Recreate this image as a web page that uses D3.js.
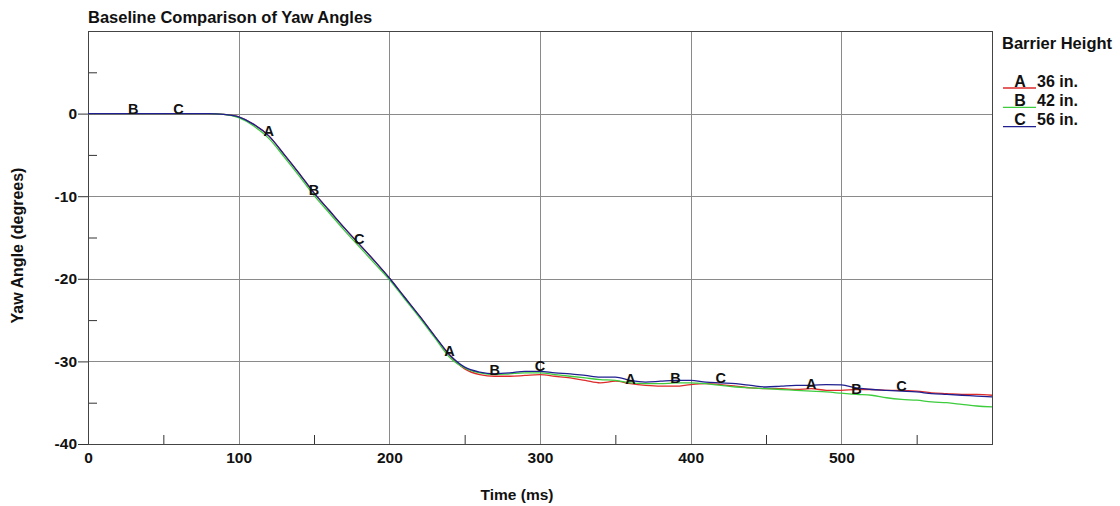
<!DOCTYPE html>
<html>
<head>
<meta charset="utf-8">
<script src="https://cdn.jsdelivr.net/npm/d3@7"></script>
<style>
  html, body { margin: 0; padding: 0; background: #fff; }
  svg text { font-family: Arial, "Liberation Sans", sans-serif; font-weight: bold; fill: #111; }
</style>
</head>
<body>
<svg id="chart" width="1120" height="506"></svg>
<script>
// ---- data ----
const times = [0,10,20,30,40,50,60,70,80,90,100,110,120,130,140,150,160,170,180,190,200,210,220,230,240,250,260,270,280,290,300,310,320,330,340,350,360,370,380,390,400,410,420,430,440,450,460,470,480,490,500,510,520,530,540,550,560,570,580,590,600];
const yawA = [0,0,0,0,0,0,0,0,0,-0.1,-0.4,-1.3,-2.7,-4.9,-7.2,-9.6,-11.7,-13.8,-15.8,-17.8,-19.9,-22.2,-24.5,-26.9,-29.3,-30.9,-31.6,-31.8,-31.8,-31.7,-31.6,-31.8,-32.0,-32.3,-32.6,-32.4,-32.7,-32.9,-33.0,-33.0,-32.8,-32.7,-32.8,-33.0,-33.2,-33.3,-33.3,-33.4,-33.3,-33.5,-33.5,-33.4,-33.4,-33.5,-33.5,-33.6,-33.8,-33.9,-34.0,-34.0,-34.1];
const yawB = [0,0,0,0,0,0,0,0,0,-0.1,-0.5,-1.5,-3.0,-5.2,-7.5,-9.9,-12.0,-14.1,-16.1,-18.1,-20.1,-22.4,-24.7,-27.1,-29.5,-30.8,-31.4,-31.6,-31.5,-31.4,-31.4,-31.6,-31.8,-32.0,-32.2,-32.3,-32.6,-32.7,-32.7,-32.6,-32.6,-32.7,-32.9,-33.1,-33.2,-33.3,-33.4,-33.5,-33.6,-33.7,-33.85,-34.0,-34.1,-34.4,-34.6,-34.7,-34.9,-35.0,-35.2,-35.4,-35.5];
const yawC = [0,0,0,0,0,0,0,0,0,-0.1,-0.4,-1.3,-2.7,-4.9,-7.2,-9.6,-11.7,-13.8,-15.8,-17.8,-19.9,-22.2,-24.5,-26.9,-29.2,-30.7,-31.3,-31.5,-31.4,-31.2,-31.2,-31.4,-31.5,-31.7,-31.9,-31.9,-32.3,-32.5,-32.4,-32.3,-32.3,-32.5,-32.6,-32.7,-32.9,-33.1,-33.0,-32.9,-32.9,-32.8,-32.85,-33.2,-33.4,-33.5,-33.6,-33.7,-33.9,-34.0,-34.1,-34.2,-34.3];
const seriesKeys = ["A","B","C"];
const seriesNames = ["36 in.","42 in.","56 in."];
const labelTimesA = [120,240,360,480];
const labelTimesB = [30,150,270,390,510];
const labelTimesC = [60,180,300,420,540];
const xTicks = [0,100,200,300,400,500];
const xMinorTicks = [50,150,250,350,450,550];
const yTicks = [-40,-30,-20,-10,0];
const yMinorTicks = [-35,-25,-15,-5,5];
const titleText = "Baseline Comparison of Yaw Angles";
const xLabel = "Time (ms)";
const yLabel = "Yaw Angle (degrees)";
const legendTitle = "Barrier Height";

// ---- layout ----
const colors = ["#dd2a2a", "#3ccc3c", "#1f1f8f"];
const svg = d3.select("#chart");
const L = 88, R = 992, T = 31, B = 444;
const x = d3.scaleLinear().domain([0, 600]).range([L, R]);
const y = d3.scaleLinear().domain([-40, 10]).range([B, T]);
const plain = d => String(d);

// gridlines
const grid = svg.append("g").attr("stroke", "#8a8a8a").attr("stroke-width", 1);
xTicks.filter(t => t > 0).forEach(t => {
  grid.append("line").attr("x1", Math.round(x(t)) + 0.5).attr("x2", Math.round(x(t)) + 0.5).attr("y1", T).attr("y2", B);
});
yTicks.filter(t => t > -40).forEach(t => {
  grid.append("line").attr("y1", Math.round(y(t)) + 0.5).attr("y2", Math.round(y(t)) + 0.5).attr("x1", L).attr("x2", R);
});

// axes
const xAxis = d3.axisBottom(x).tickValues(xTicks).tickSize(0).tickPadding(8).tickFormat(plain);
const gx = svg.append("g").attr("transform", `translate(0,${B})`).call(xAxis);
gx.select(".domain").remove();
gx.selectAll("text").attr("font-size", 15.5).style("font-weight", "bold").attr("fill", "#111");

const xMinor = d3.axisTop(x).tickValues(xMinorTicks).tickSize(9).tickFormat("");
const gxm = svg.append("g").attr("transform", `translate(0,${B})`).call(xMinor);
gxm.select(".domain").remove();
gxm.selectAll("line").attr("stroke", "#333");

const yAxis = d3.axisLeft(y).tickValues(yTicks).tickSize(10).tickPadding(1).tickFormat(plain);
const gy = svg.append("g").attr("transform", `translate(${L},0)`).call(yAxis);
gy.select(".domain").remove();
gy.selectAll("line").attr("stroke", "#333");
gy.selectAll("text").attr("font-size", 15.5).style("font-weight", "bold").attr("fill", "#111");

const yMinor = d3.axisRight(y).tickValues(yMinorTicks).tickSize(9).tickFormat("");
const gym = svg.append("g").attr("transform", `translate(${L},0)`).call(yMinor);
gym.select(".domain").remove();
gym.selectAll("line").attr("stroke", "#333");

// frame
svg.append("rect").attr("x", L + 0.5).attr("y", T + 0.5).attr("width", R - L).attr("height", B - T)
  .attr("fill", "none").attr("stroke", "#444").attr("stroke-width", 1);

// lines
const allSeries = [yawA, yawB, yawC];
const line = d3.line().x(d => x(d[0])).y(d => y(d[1])).curve(d3.curveMonotoneX);
const plot = svg.append("g");
allSeries.forEach((vals, i) => {
  const pts = times.map((t, j) => [t, vals[j]]);
  plot.append("path").datum(pts).attr("d", line)
    .attr("fill", "none").attr("stroke", colors[i]).attr("stroke-width", 1.3);
});

// curve letter markers
const labelTimes = [labelTimesA, labelTimesB, labelTimesC];
labelTimes.forEach((lt, i) => {
  lt.forEach(t => {
    const v = allSeries[i][times.indexOf(t)];
    svg.append("text").attr("x", x(t)).attr("y", y(v))
      .attr("text-anchor", "middle").attr("font-size", 14.5).text(seriesKeys[i]);
  });
});

// title and axis labels
svg.append("text").attr("x", L).attr("y", 23).attr("font-size", 16.5).text(titleText);
svg.append("text").attr("x", 517).attr("y", 500).attr("text-anchor", "middle").attr("font-size", 15.5).text(xLabel);
svg.append("text").attr("transform", `translate(23,${(T + B) / 2 + 8}) rotate(-90)`)
  .attr("text-anchor", "middle").attr("font-size", 16).text(yLabel);

// legend
svg.append("text").attr("x", 1002).attr("y", 49).attr("font-size", 16.5).text(legendTitle);
seriesKeys.forEach((k, i) => {
  const by = 86.5 + i * 19.3;
  svg.append("line").attr("x1", 1003).attr("x2", 1036).attr("y1", by + 1.5).attr("y2", by + 1.5)
    .attr("stroke", colors[i]).attr("stroke-width", 1.3);
  svg.append("text").attr("x", 1020).attr("y", by).attr("text-anchor", "middle").attr("font-size", 16).text(k);
  svg.append("text").attr("x", 1037).attr("y", by).attr("font-size", 16).text(seriesNames[i]);
});
</script>
</body>
</html>
